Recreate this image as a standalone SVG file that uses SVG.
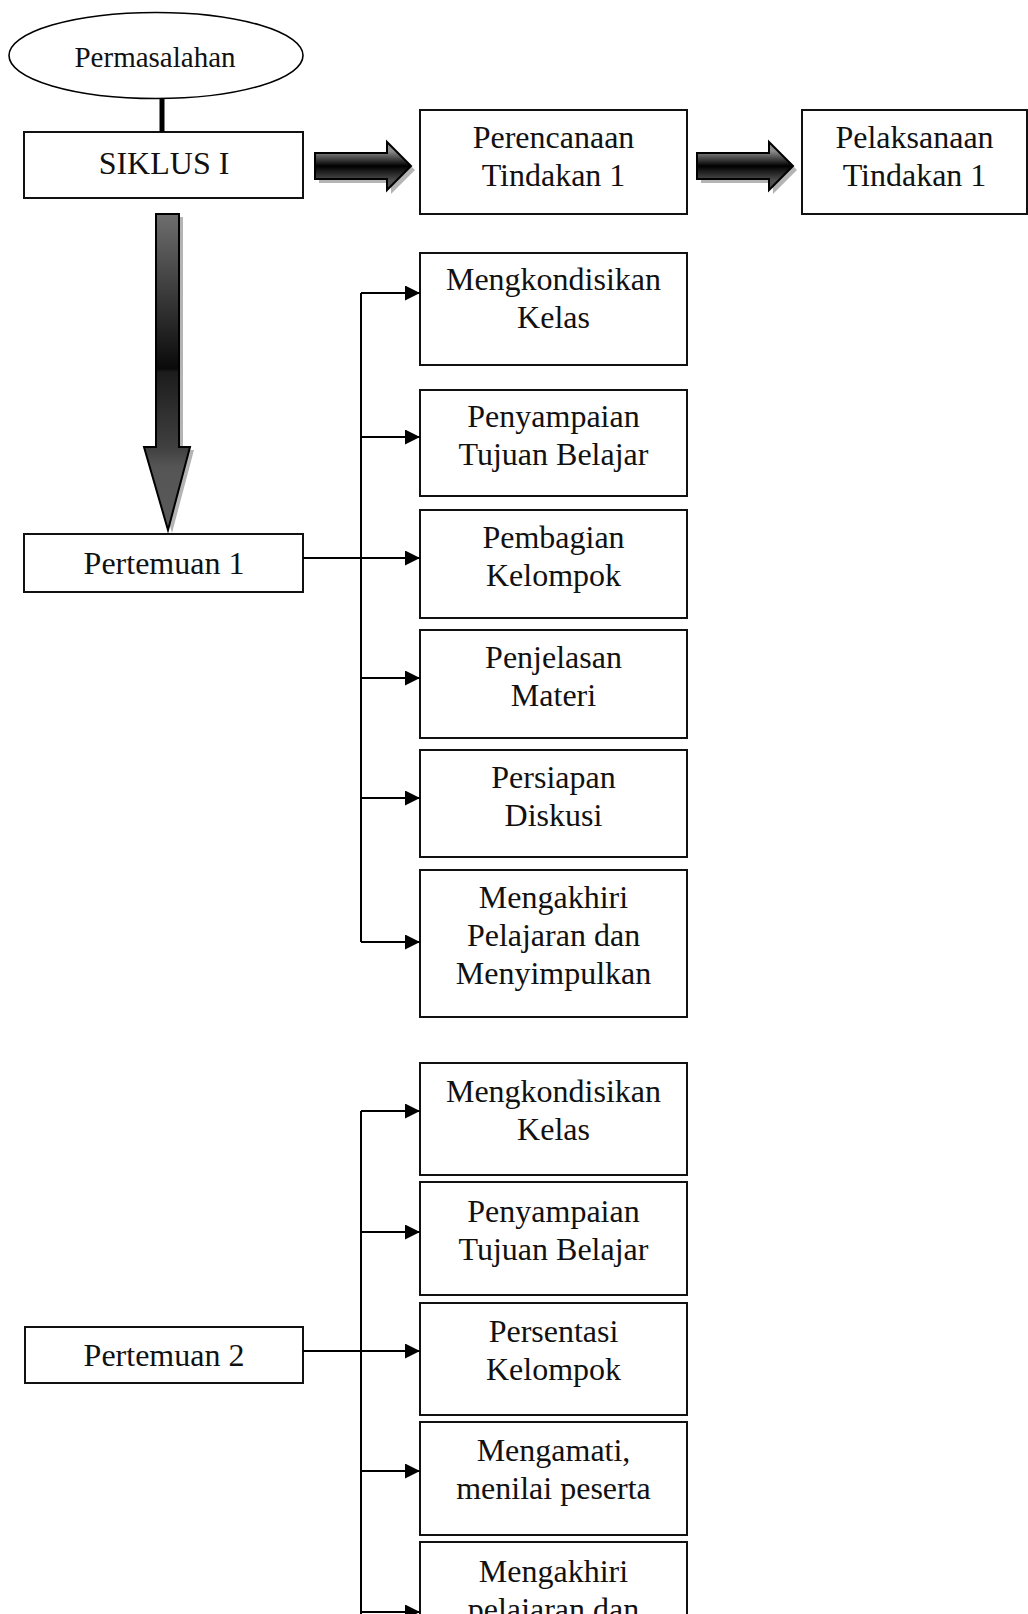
<svg xmlns="http://www.w3.org/2000/svg" width="1028" height="1614" viewBox="0 0 1028 1614">
<style>
.box{fill:#fff;stroke:#111;stroke-width:2}
.t{font-family:"Liberation Serif","Times New Roman",serif;font-size:32px;fill:#111;text-anchor:middle}
.ln{fill:none;stroke:#000;stroke-width:2}
.fat{stroke:#000;stroke-width:2;stroke-linejoin:miter}
.shadow{fill:#b4b4b4}
</style>
<defs>
<marker id="ah" markerWidth="16" markerHeight="16" refX="15" refY="7.5" orient="auto" markerUnits="userSpaceOnUse">
<path d="M0,0 L15,7.5 L0,15 Z" fill="#000"/>
</marker>
<linearGradient id="hg" gradientUnits="userSpaceOnUse" x1="0" y1="151" x2="0" y2="181">
<stop offset="0" stop-color="#8c8c8c"/>
<stop offset="0.5" stop-color="#000"/>
<stop offset="1" stop-color="#505050"/>
</linearGradient>
<linearGradient id="vg" gradientUnits="userSpaceOnUse" x1="0" y1="214" x2="0" y2="530">
<stop offset="0" stop-color="#6e6e6e"/>
<stop offset="0.49" stop-color="#0a0a0a"/>
<stop offset="0.5" stop-color="#1c1c1c"/>
<stop offset="0.74" stop-color="#404040"/>
<stop offset="0.8" stop-color="#555"/>
<stop offset="1" stop-color="#5a5a5a"/>
</linearGradient>
</defs>

<g id="permasalahan">
<ellipse cx="156" cy="55.5" rx="147" ry="43" fill="#fff" stroke="#000" stroke-width="1.6"/>
<text class="t" x="155" y="67" style="font-size:29px">Permasalahan</text>
</g>

<g id="siklus">
<rect class="box" x="24" y="132" width="279" height="66"/>
<text class="t" x="164" y="174">SIKLUS I</text>
</g>

<g id="perencanaan">
<rect class="box" x="420" y="110" width="267" height="104"/>
<text class="t" x="553.5" y="148">Perencanaan</text>
<text class="t" x="553.5" y="186">Tindakan 1</text>
</g>

<g id="pelaksanaan">
<rect class="box" x="802" y="110" width="225" height="104"/>
<text class="t" x="914.5" y="148">Pelaksanaan</text>
<text class="t" x="914.5" y="186">Tindakan 1</text>
</g>

<g id="pertemuan1">
<rect class="box" x="24" y="534" width="279" height="58"/>
<text class="t" x="164" y="574">Pertemuan 1</text>
</g>

<g id="p1-kondisi">
<rect class="box" x="420" y="253" width="267" height="112"/>
<text class="t" x="553.5" y="290">Mengkondisikan</text>
<text class="t" x="553.5" y="328">Kelas</text>
</g>
<g id="p1-tujuan">
<rect class="box" x="420" y="390" width="267" height="106"/>
<text class="t" x="553.5" y="427">Penyampaian</text>
<text class="t" x="553.5" y="465">Tujuan Belajar</text>
</g>
<g id="p1-pembagian">
<rect class="box" x="420" y="510" width="267" height="108"/>
<text class="t" x="553.5" y="548">Pembagian</text>
<text class="t" x="553.5" y="586">Kelompok</text>
</g>
<g id="p1-penjelasan">
<rect class="box" x="420" y="630" width="267" height="108"/>
<text class="t" x="553.5" y="668">Penjelasan</text>
<text class="t" x="553.5" y="706">Materi</text>
</g>
<g id="p1-persiapan">
<rect class="box" x="420" y="750" width="267" height="107"/>
<text class="t" x="553.5" y="788">Persiapan</text>
<text class="t" x="553.5" y="826">Diskusi</text>
</g>
<g id="p1-mengakhiri">
<rect class="box" x="420" y="870" width="267" height="147"/>
<text class="t" x="553.5" y="908">Mengakhiri</text>
<text class="t" x="553.5" y="946">Pelajaran dan</text>
<text class="t" x="553.5" y="984">Menyimpulkan</text>
</g>

<g id="pertemuan2">
<rect class="box" x="25" y="1327" width="278" height="56"/>
<text class="t" x="164" y="1366">Pertemuan 2</text>
</g>

<g id="p2-kondisi">
<rect class="box" x="420" y="1063" width="267" height="112"/>
<text class="t" x="553.5" y="1102">Mengkondisikan</text>
<text class="t" x="553.5" y="1140">Kelas</text>
</g>
<g id="p2-tujuan">
<rect class="box" x="420" y="1182" width="267" height="113"/>
<text class="t" x="553.5" y="1222">Penyampaian</text>
<text class="t" x="553.5" y="1260">Tujuan Belajar</text>
</g>
<g id="p2-persentasi">
<rect class="box" x="420" y="1303" width="267" height="112"/>
<text class="t" x="553.5" y="1342">Persentasi</text>
<text class="t" x="553.5" y="1380">Kelompok</text>
</g>
<g id="p2-mengamati">
<rect class="box" x="420" y="1422" width="267" height="113"/>
<text class="t" x="553.5" y="1461">Mengamati,</text>
<text class="t" x="553.5" y="1499">menilai peserta</text>
</g>
<g id="p2-mengakhiri">
<rect class="box" x="420" y="1542" width="267" height="140"/>
<text class="t" x="553.5" y="1582">Mengakhiri</text>
<text class="t" x="553.5" y="1620">pelajaran dan</text>
</g>

<g id="connectors">
<line x1="162" y1="98" x2="162" y2="132" stroke="#000" stroke-width="5"/>

<g id="fat-arrow-1">
<path class="shadow" transform="translate(4,4)" d="M315,153 L387,153 L387,142 L411,166 L387,190 L387,179 L315,179 Z"/>
<path class="fat" fill="url(#hg)" d="M315,153 L387,153 L387,142 L411,166 L387,190 L387,179 L315,179 Z"/>
</g>
<g id="fat-arrow-2">
<path class="shadow" transform="translate(4,4)" d="M697,153 L769,153 L769,142 L793,166 L769,190 L769,179 L697,179 Z"/>
<path class="fat" fill="url(#hg)" d="M697,153 L769,153 L769,142 L793,166 L769,190 L769,179 L697,179 Z"/>
</g>
<g id="fat-arrow-down">
<path class="shadow" transform="translate(4,3)" d="M156,214 L179,214 L179,447 L190,447 L168,530 L144,447 L156,447 Z"/>
<path class="fat" fill="url(#vg)" d="M156,214 L179,214 L179,447 L190,447 L168,530 L144,447 L156,447 Z"/>
</g>

<line class="ln" x1="361" y1="293" x2="361" y2="942"/>
<line class="ln" x1="361" y1="293" x2="420" y2="293" marker-end="url(#ah)"/>
<line class="ln" x1="361" y1="437" x2="420" y2="437" marker-end="url(#ah)"/>
<line class="ln" x1="303" y1="558" x2="420" y2="558" marker-end="url(#ah)"/>
<line class="ln" x1="361" y1="678" x2="420" y2="678" marker-end="url(#ah)"/>
<line class="ln" x1="361" y1="798" x2="420" y2="798" marker-end="url(#ah)"/>
<line class="ln" x1="361" y1="942" x2="420" y2="942" marker-end="url(#ah)"/>

<line class="ln" x1="361" y1="1111" x2="361" y2="1614"/>
<line class="ln" x1="361" y1="1111" x2="420" y2="1111" marker-end="url(#ah)"/>
<line class="ln" x1="361" y1="1232" x2="420" y2="1232" marker-end="url(#ah)"/>
<line class="ln" x1="303" y1="1351" x2="420" y2="1351" marker-end="url(#ah)"/>
<line class="ln" x1="361" y1="1471" x2="420" y2="1471" marker-end="url(#ah)"/>
<line class="ln" x1="361" y1="1612" x2="420" y2="1612" marker-end="url(#ah)"/>
</g>
</svg>
